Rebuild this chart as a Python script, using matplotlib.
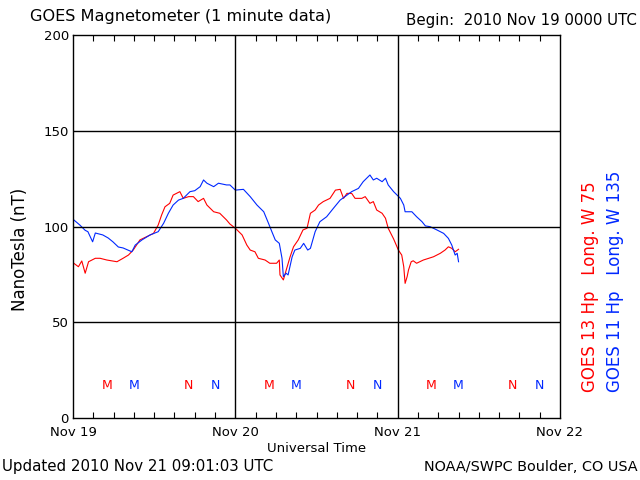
import matplotlib.pyplot as plt
from matplotlib.ticker import MultipleLocator, FixedLocator

# Werte (Stunden seit 2010 Nov 19 00 UTC, nT)
g13_hours = [0.0, 0.8, 1.3, 1.8, 2.3, 3.3, 4.0, 5.0, 6.5, 7.4, 8.2, 8.9, 9.9, 10.9,
             11.9, 12.6, 13.1, 13.6, 14.3, 14.8, 15.8, 16.3, 17.1, 17.8, 18.5, 19.3,
             19.8, 20.8, 21.7, 22.7, 23.2, 24.0, 25.0, 25.7, 26.2, 26.9, 27.4, 28.4,
             29.1, 30.1, 30.5, 30.6, 31.1, 31.6, 32.1, 32.6, 33.3, 34.0, 34.6, 35.1,
             35.8, 36.3, 37.0, 38.0, 38.8, 39.5, 40.0, 40.5, 41.2, 41.7, 42.7, 43.2,
             43.9, 44.4, 44.9, 45.7, 46.2, 46.6, 47.4, 47.9, 48.1, 48.6, 48.9, 49.1,
             49.4, 49.6, 50.0, 50.3, 50.8, 51.8, 52.6, 53.3, 54.3, 55.0, 55.5, 56.0,
             56.5, 57.0]
g13_values = [81.1, 79.0, 82.0, 75.6, 81.6, 83.4, 83.4, 82.5, 81.6, 83.4, 85.1, 87.7,
              93.0, 94.7, 96.4, 100.8, 106.0, 110.3, 112.1, 116.4, 118.2, 114.7, 115.6,
              115.6, 113.0, 114.7, 111.2, 107.7, 106.9, 103.4, 101.3, 99.1, 95.6, 90.3,
              87.7, 86.8, 83.4, 82.5, 80.8, 80.8, 82.5, 74.7, 72.1, 78.2, 84.2, 89.4,
              93.0, 98.2, 99.1, 106.9, 108.6, 111.2, 113.0, 114.7, 119.0, 119.4, 114.7,
              117.3, 117.3, 114.7, 114.7, 115.6, 112.1, 113.0, 108.6, 106.9, 104.3,
              99.1, 93.5, 89.4, 87.7, 85.1, 79.0, 70.3, 73.8, 77.3, 81.6, 82.1, 80.8,
              82.5, 83.4, 84.2, 86.0, 87.7, 89.4, 88.6, 86.8, 88.1]

g11_hours = [0.0, 1.0, 1.8, 2.2, 2.9, 3.3, 4.4, 5.2, 5.9, 6.7, 7.4, 8.7, 9.2, 10.2,
             11.4, 12.6, 13.4, 14.1, 14.8, 15.6, 16.3, 17.3, 18.0, 18.8, 19.3, 19.8,
             20.8, 21.5, 22.7, 23.2, 24.0, 25.2, 26.2, 27.2, 28.2, 28.9, 29.4, 29.9,
             30.5, 30.9, 31.1, 31.5, 31.8, 32.4, 32.8, 33.6, 34.1, 34.7, 35.1, 35.8,
             36.5, 37.5, 38.5, 39.5, 40.2, 41.2, 42.2, 42.9, 43.9, 44.4, 44.9, 45.7,
             46.2, 46.6, 47.4, 48.4, 48.9, 49.1, 50.1, 50.8, 51.6, 52.1, 52.8, 53.8,
             54.8, 55.5, 56.0, 56.5, 56.8, 57.0]
g11_values = [103.8, 100.8, 98.0, 97.3, 92.0, 96.6, 95.6, 94.0, 92.0, 89.3, 88.8, 86.8,
              90.3, 93.0, 95.6, 97.3, 101.7, 106.9, 111.2, 113.8, 114.7, 118.2, 118.7,
              120.8, 124.3, 122.6, 120.8, 122.6, 121.7, 121.7, 119.0, 119.4, 115.6,
              111.2, 107.7, 101.7, 97.3, 93.0, 91.2, 83.4, 73.8, 75.6, 74.7, 84.2, 87.7,
              88.6, 91.2, 87.7, 88.6, 97.3, 102.5, 105.1, 109.5, 113.8, 115.6, 118.2,
              119.9, 123.4, 126.9, 124.3, 125.2, 123.4, 125.2, 121.7, 118.2, 114.7,
              111.2, 107.7, 107.7, 105.1, 102.5, 100.3, 99.9, 98.2, 96.4, 93.8, 90.3,
              85.1, 86.0, 81.6]

# M = Mitternacht, N = Mittag (Ortszeit) der beiden Satelliten
g13_m_hours = [5, 29, 53]
g13_n_hours = [17, 41, 65]
g11_m_hours = [9, 33, 57]
g11_n_hours = [21, 45, 69]
marker_level = 17

day_ticks = [0, 24, 48, 72]
day_labels = ["Nov 19", "Nov 20", "Nov 21", "Nov 22"]
y_ticks = [0, 50, 100, 150, 200]

RED = "#ff0000"
BLUE = "#0028ff"

fig = plt.figure(figsize=(6.4, 4.8), dpi=100)
ax = fig.add_axes([73 / 640, 1 - 418 / 480, 487 / 640, 383 / 480])

ax.plot(g13_hours, g13_values, color=RED, lw=0.8)
ax.plot(g11_hours, g11_values, color=BLUE, lw=0.8)

for h in g13_m_hours:
    ax.text(h, marker_level, "M", color=RED, ha="center", va="center", fontsize=9)
for h in g11_m_hours:
    ax.text(h, marker_level, "M", color=BLUE, ha="center", va="center", fontsize=9)
for h in g13_n_hours:
    ax.text(h, marker_level, "N", color=RED, ha="center", va="center", fontsize=9)
for h in g11_n_hours:
    ax.text(h, marker_level, "N", color=BLUE, ha="center", va="center", fontsize=9)

ax.set_xlim(0, 72)
ax.set_ylim(0, 200)
ax.xaxis.set_major_locator(FixedLocator(day_ticks))
ax.set_xticklabels(day_labels)
ax.xaxis.set_minor_locator(MultipleLocator(3))
ax.set_yticks(y_ticks)
ax.tick_params(axis="x", which="major", length=0, pad=6, labelsize=9.5)
ax.tick_params(axis="x", which="minor", direction="in", length=4, width=0.8,
               top=True, bottom=True)
ax.tick_params(axis="y", length=0, pad=3, labelsize=9.5)
for s in ax.spines.values():
    s.set_linewidth(1.0)

for h in day_ticks[1:-1]:
    ax.axvline(h, color="black", lw=1.0)
for v in y_ticks[1:-1]:
    ax.axhline(v, color="black", lw=1.0)

ax.set_xlabel("Universal Time", fontsize=9.5, labelpad=2)
fig.text(20 / 640, 1 - 249 / 480, "NanoTesla (nT)", rotation=90, ha="center",
         va="center", fontsize=12)

fig.text(30 / 640, 1 - 17 / 480, "GOES Magnetometer (1 minute data)", ha="left",
         va="center", fontsize=11.6)
fig.text(637 / 640, 1 - 21 / 480, "Begin:  2010 Nov 19 0000 UTC", ha="right",
         va="center", fontsize=10.8)
fig.text(2 / 640, 1 - 467 / 480, "Updated 2010 Nov 21 09:01:03 UTC", ha="left",
         va="center", fontsize=10.8)
fig.text(638 / 640, 1 - 467 / 480, "NOAA/SWPC Boulder, CO USA", ha="right",
         va="center", fontsize=10.4)

fig.text(590 / 640, 1 - 392 / 480, "GOES 13 Hp   Long. W 75", rotation=90,
         ha="center", va="bottom", color=RED, fontsize=12)
fig.text(615 / 640, 1 - 392 / 480, "GOES 11 Hp   Long. W 135", rotation=90,
         ha="center", va="bottom", color=BLUE, fontsize=12)

fig.savefig("out.png", dpi=100)
